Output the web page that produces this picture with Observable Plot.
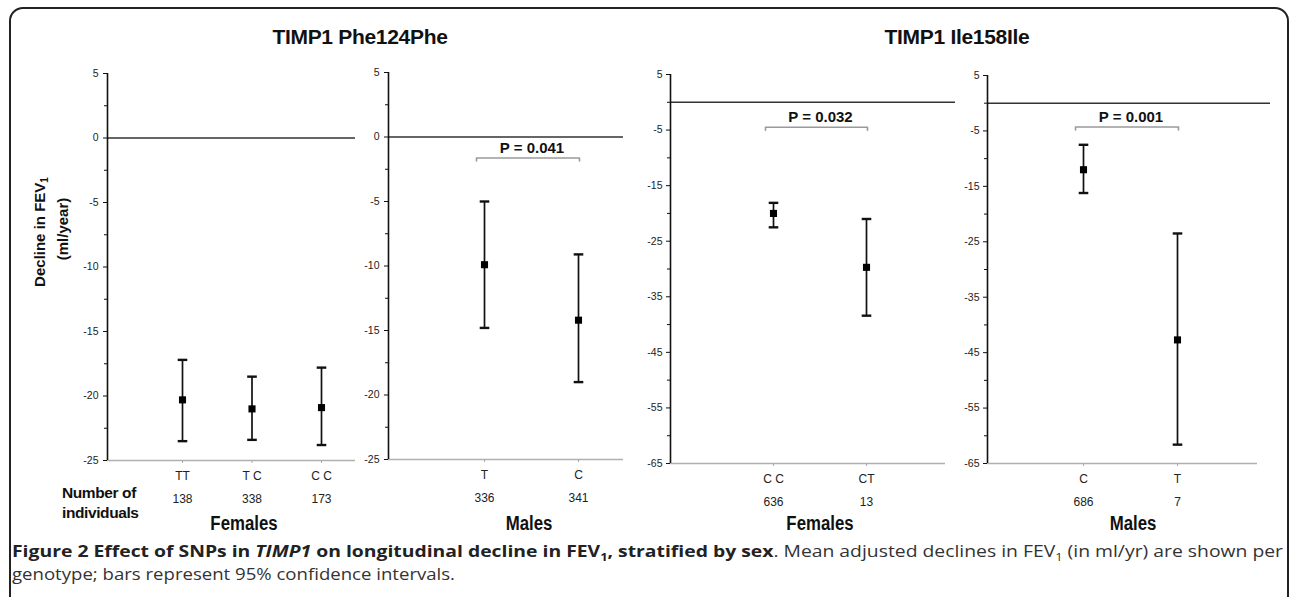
<!DOCTYPE html>
<html><head><meta charset="utf-8">
<script src="https://cdn.jsdelivr.net/npm/d3@7"></script>
<script src="https://cdn.jsdelivr.net/npm/@observablehq/plot@0.6"></script>
<style>
body{margin:0;background:#fff;}
#root{position:relative;width:1296px;height:597px;overflow:hidden;font-family:"Liberation Sans",Arial,sans-serif;color:#111;}
.abs{position:absolute;white-space:nowrap;}
.frame{position:absolute;left:9px;top:7px;width:1280px;height:660px;border:2px solid #222;border-radius:14px;box-sizing:border-box;}
.title{font-weight:bold;font-size:21px;text-align:center;width:400px;height:26px;line-height:26px;letter-spacing:-0.3px;}
.sex{font-weight:bold;font-size:20px;text-align:center;width:200px;height:24px;line-height:24px;transform:scaleX(0.84);}
.num{font-weight:bold;font-size:15.5px;height:20px;line-height:20px;letter-spacing:-0.4px;}
.ylab{font-weight:bold;font-size:15px;text-align:center;width:200px;height:20px;line-height:20px;transform:rotate(-90deg);}
</style></head><body>
<div id="root"><div class="frame"></div></div>
<script>
// ---------- data ----------
const titles = ["TIMP1 Phe124Phe", "TIMP1 Ile158Ile"];
const sexLabels = ["Females", "Males", "Females", "Males"];

const pheF_genotype = ["TT", "T C", "C C"];
const pheF_n = [138, 338, 173];
const pheF_mean = [-20.3, -21.0, -20.9];
const pheF_lo = [-23.5, -23.4, -23.8];
const pheF_hi = [-17.2, -18.5, -17.8];

const pheM_genotype = ["T", "C"];
const pheM_n = [336, 341];
const pheM_mean = [-9.9, -14.2];
const pheM_lo = [-14.8, -19.0];
const pheM_hi = [-5.0, -9.1];

const ileF_genotype = ["C C", "CT"];
const ileF_n = [636, 13];
const ileF_mean = [-20.0, -29.7];
const ileF_lo = [-22.5, -38.4];
const ileF_hi = [-18.1, -21.0];

const ileM_genotype = ["C", "T"];
const ileM_n = [686, 7];
const ileM_mean = [-12.0, -42.7];
const ileM_lo = [-16.2, -61.6];
const ileM_hi = [-7.5, -23.5];

const pLabels = [null, "P = 0.041", "P = 0.032", "P = 0.001"];
const pLevels = [null, -1.63, -4.5, -4.3];

const pheTicks = [5, 0, -5, -10, -15, -20, -25];
const pheMinor = [2.5, -2.5, -7.5, -12.5, -17.5, -22.5];
const ileTicks = [5, -5, -15, -25, -35, -45, -55, -65];
const ileMinor = [0, -10, -20, -30, -40, -50, -60];

// ---------- layout (pixels) ----------
const panels = [
  {g: pheF_genotype, n: pheF_n, m: pheF_mean, lo: pheF_lo, hi: pheF_hi, ticks: pheTicks, minor: pheMinor, ymin: -25,
   L: 107, Rz: 355, axEnd: 355, T: 73, B: 460, pos1: 182, unit: 69.5, tickGap: 5},
  {g: pheM_genotype, n: pheM_n, m: pheM_mean, lo: pheM_lo, hi: pheM_hi, ticks: pheTicks, minor: pheMinor, ymin: -25,
   L: 388, Rz: 623, axEnd: 623, T: 72, B: 459, pos1: 484, unit: 94, tickGap: 5},
  {g: ileF_genotype, n: ileF_n, m: ileF_mean, lo: ileF_lo, hi: ileF_hi, ticks: ileTicks, minor: ileMinor, ymin: -65,
   L: 670, Rz: 955, axEnd: 945, T: 74, B: 463, pos1: 773, unit: 93, tickGap: 4},
  {g: ileM_genotype, n: ileM_n, m: ileM_mean, lo: ileM_lo, hi: ileM_hi, ticks: ileTicks, minor: ileMinor, ymin: -65,
   L: 987, Rz: 1270, axEnd: 1257, T: 75, B: 463, pos1: 1083, unit: 94, tickGap: 4}
];
const sexCenters = [244, 529, 820, 1133];
const titleCenters = [360, 957];

const root = document.getElementById("root");
const FONT = "'Liberation Sans', Arial, sans-serif";
const capSymbol = {draw(ctx, size) { const r = Math.sqrt(size / Math.PI); ctx.moveTo(-r, 0); ctx.lineTo(r, 0); }};

const svgTop = 55, svgBottom = 532, padL = 45, padR = 15;

panels.forEach((p, k) => {
  const x0 = p.pos1 - p.unit;
  const toX = px => (px - x0) / p.unit;
  const d0 = toX(p.L), d1 = toX(p.Rz), dAx = toX(p.axEnd);
  const pxPerUnit = (p.B - p.T) / (5 - p.ymin);
  const rows = p.g.map((g, i) => ({i: i + 1, g, n: p.n[i], mean: p.m[i], lo: p.lo[i], hi: p.hi[i]}));
  const W = (p.Rz - p.L) + padL + padR;
  const H = svgBottom - svgTop;
  const marks = [
    Plot.ruleY([{y: 0, a: d0, b: d1}], {y: "y", x1: "a", x2: "b", stroke: "#333", strokeWidth: 1.6}),
    Plot.ruleY([{y: p.ymin, a: d0, b: dAx}], {y: "y", x1: "a", x2: "b", stroke: "#b0b0b0", strokeWidth: 1.6}),
    Plot.ruleX([{x: d0, y1: p.ymin, y2: 5}], {x: "x", y1: "y1", y2: "y2", stroke: "#111", strokeWidth: 1.6}),
    Plot.axisY({ticks: p.ticks, tickSize: 4, tickPadding: p.tickGap, fontSize: 10.5, stroke: "#111", fill: "#222", tickFormat: d => String(d)}),
    Plot.axisY({ticks: p.minor, tickSize: 3, stroke: "#111", tickFormat: () => ""}),
    Plot.axisX({ticks: rows.map(r => r.i), tickSize: 3, tickPadding: 8, fontSize: 12, stroke: "#aaa", fill: "#222", tickFormat: i => p.g[i - 1]}),
    Plot.text(rows, {x: "i", text: d => String(d.n), frameAnchor: "bottom", dy: 42, fontSize: 12, fill: "#222"}),
    Plot.ruleX(rows, {x: "i", y1: "lo", y2: "hi", stroke: "#111", strokeWidth: 1.7}),
    Plot.dot(rows, {x: "i", y: "lo", symbol: capSymbol, r: 4.8, fill: "none", stroke: "#111", strokeWidth: 2.4}),
    Plot.dot(rows, {x: "i", y: "hi", symbol: capSymbol, r: 4.8, fill: "none", stroke: "#111", strokeWidth: 2.4}),
    Plot.dot(rows, {x: "i", y: "mean", symbol: "square", r: 4, fill: "#000", stroke: "none"})
  ];
  if (pLabels[k]) {
    const lvl = pLevels[k];
    const dy = 3 / pxPerUnit;
    const a = 1 - 8 / p.unit, b = 2 + 1 / p.unit;
    marks.push(
      Plot.line([{x: a, y: lvl - dy}, {x: a, y: lvl}, {x: b, y: lvl}, {x: b, y: lvl - dy}], {x: "x", y: "y", stroke: "#9a9a9a", strokeWidth: 1.6}),
      Plot.text([{x: (a + b) / 2 + 4 / p.unit, y: lvl, t: pLabels[k]}], {x: "x", y: "y", text: "t", dy: -10, fontSize: 15, fontWeight: "bold", fill: "#111"})
    );
  }
  const svg = Plot.plot({
    width: W, height: H,
    marginLeft: padL, marginRight: padR,
    marginTop: p.T - svgTop, marginBottom: svgBottom - p.B,
    x: {domain: [d0, d1]},
    y: {domain: [p.ymin, 5]},
    style: {background: "transparent", fontFamily: FONT, overflow: "visible"},
    marks
  });
  svg.style.position = "absolute";
  svg.style.left = (p.L - padL) + "px";
  svg.style.top = svgTop + "px";
  root.appendChild(svg);
});

function addDiv(cls, text, left, top) {
  const d = document.createElement("div");
  d.className = "abs " + cls;
  d.textContent = text;
  d.style.left = left + "px";
  d.style.top = top + "px";
  root.appendChild(d);
  return d;
}
titles.forEach((t, i) => addDiv("title", t, titleCenters[i] - 200, 37 - 13));
sexLabels.forEach((t, i) => addDiv("sex", t, sexCenters[i] - 100, 523 - 12));
addDiv("num", "Number of", 62, 493 - 10);
addDiv("num", "individuals", 62, 513 - 10);

// y axis title (rotated)
const yl1 = document.createElement("div");
yl1.className = "abs ylab";
yl1.innerHTML = "Decline in FEV<sub style='font-size:10px;vertical-align:-3px'>1</sub>";
yl1.style.left = (40 - 100) + "px"; yl1.style.top = (232 - 10) + "px";
root.appendChild(yl1);
addDiv("ylab", "(ml/year)", 63 - 100, 229 - 10);

// caption as svg text
const ns = "http://www.w3.org/2000/svg";
const cap = document.createElementNS(ns, "svg");
cap.setAttribute("width", 1296); cap.setAttribute("height", 60);
cap.style.position = "absolute"; cap.style.left = "0px"; cap.style.top = "537px";
cap.innerHTML = `
<text x="12" y="20" textLength="1271" lengthAdjust="spacingAndGlyphs" font-family="'Open Sans', sans-serif" font-size="16.5" fill="#333"><tspan font-weight="bold" fill="#222">Figure 2 Effect of SNPs in </tspan><tspan font-weight="bold" font-style="italic" fill="#222">TIMP1</tspan><tspan font-weight="bold" fill="#222"> on longitudinal decline in FEV</tspan><tspan font-weight="bold" fill="#222" font-size="11" dy="4">1</tspan><tspan font-weight="bold" fill="#222" dy="-4">, stratified by sex</tspan><tspan>. Mean adjusted declines in FEV</tspan><tspan font-size="11" dy="4">1</tspan><tspan dy="-4"> (in ml/yr) are shown per</tspan></text>
<text x="12" y="43" textLength="443" lengthAdjust="spacingAndGlyphs" font-family="'Open Sans', sans-serif" font-size="16.5" fill="#333">genotype; bars represent 95% confidence intervals.</text>`;
root.appendChild(cap);
</script>
</body></html>
